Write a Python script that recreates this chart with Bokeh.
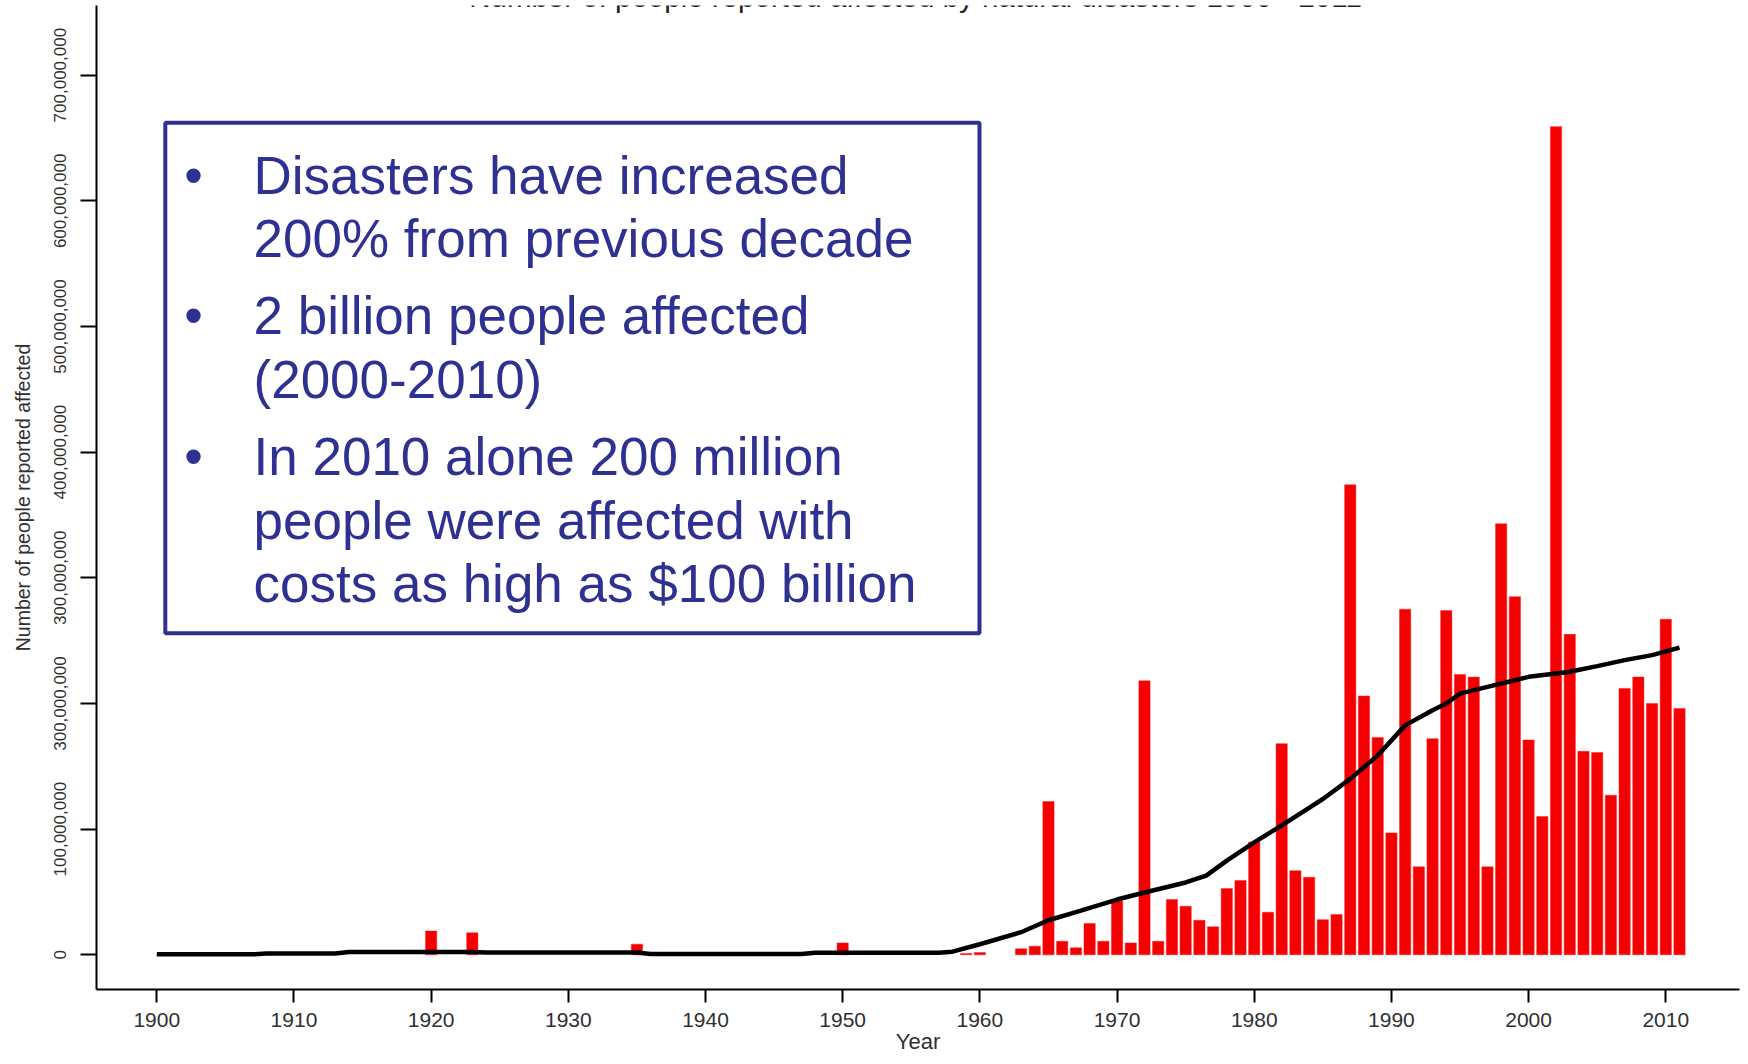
import math
from bokeh.plotting import figure
from bokeh.models import Range1d, FixedTicker, Label, BoxAnnotation
from bokeh.embed import file_html
from bokeh.resources import INLINE

# ---------------- data ----------------
bar_years = [1920, 1923, 1935, 1950, 1959, 1960, 1963, 1964, 1965, 1966, 1967, 1968, 1969,
             1970, 1971, 1972, 1973, 1974, 1975, 1976, 1977, 1978, 1979, 1980, 1981, 1982,
             1983, 1984, 1985, 1986, 1987, 1988, 1989, 1990, 1991, 1992, 1993, 1994, 1995,
             1996, 1997, 1998, 1999, 2000, 2001, 2002, 2003, 2004, 2005, 2006, 2007, 2008,
             2009, 2010, 2011]
bar_values_m = [19, 17.5, 8.5, 9.5, 1.0, 1.8, 4.8, 6.9, 122, 10.8, 5.6, 24.9, 10.8,
                43.2, 9.5, 218, 10.8, 44, 38.6, 27.5, 22.3, 52.7, 59.1, 89.8, 33.9, 168,
                67, 61.7, 28, 32, 374, 206, 173, 97, 275, 70, 172, 274, 223,
                221, 70, 343, 285, 171, 110, 659, 255, 162, 161, 127, 212, 221,
                200, 267, 196]

trend_years = [1900, 1907, 1908, 1913, 1914, 1923, 1924, 1935, 1936, 1947, 1948, 1957, 1958,
               1960, 1963, 1965, 1967, 1970, 1972, 1975, 1976.5, 1978, 1980, 1982, 1984,
               1985, 1987, 1989, 1991, 1993, 1994, 1995, 1997, 1999, 2000, 2002, 2003,
               2005, 2007, 2009, 2011]
trend_values_m = [0.4, 0.4, 1.0, 1.0, 2.3, 2.3, 1.8, 1.8, 0.6, 0.6, 1.6, 1.6, 2.5,
                  8.4, 18, 27.5, 34, 44, 49.6, 57.6, 63, 75, 89.5, 103, 117,
                  124, 140, 158.7, 182.6, 194.6, 200, 207.9, 213.2, 218.5, 221.2, 223.9, 225.2,
                  229.7, 234.5, 238.5, 244.4]

x_tick_years = [1900, 1910, 1920, 1930, 1940, 1950, 1960, 1970, 1980, 1990, 2000, 2010]
y_tick_values = [0, 100000000, 200000000, 300000000, 400000000, 500000000, 600000000, 700000000]
y_tick_labels = ["0", "100,000,000", "300,000,000", "300,000,000", "400,000,000",
                 "500,000,000", "600,000,000", "700,000,000"]

title_text = "Number of people reported affected by natural disasters 1900 - 2011"
x_axis_title = "Year"
y_axis_title = "Number of people reported affected"
box_lines = ["Disasters have increased", "200% from previous decade",
             "2 billion people affected", "(2000-2010)",
             "In 2010 alone 200 million", "people were affected with",
             "costs as high as $100 billion"]
bullet_lines = [0, 2, 4]

# ---------------- geometry (canvas pixels -> data) ----------------
X0_PX, PX_PER_YEAR = 156.3, 13.718
Y0_PX, PX_PER_UNIT = 955.3, 125.8 / 1e8
CAP_SHIFT = 0.358   # labels render their cap-centre at the anchor


def px2x(px):
    return 1900 + (px - X0_PX) / PX_PER_YEAR


def py2y(py):
    return (Y0_PX - py) / PX_PER_UNIT


def base_y(baseline_px, font_px):
    return py2y(baseline_px - CAP_SHIFT * font_px)


W, H = 1740, 1056
FRAME_L, FRAME_R, FRAME_T, FRAME_B = 96, 1739, 5, 990
p = figure(width=W, height=H, output_backend="svg", toolbar_location=None,
           x_range=Range1d(px2x(FRAME_L), px2x(FRAME_R)),
           y_range=Range1d(py2y(FRAME_B), py2y(FRAME_T)),
           min_border_left=FRAME_L, min_border_right=W - FRAME_R,
           min_border_top=FRAME_T, min_border_bottom=H - FRAME_B)
p.outline_line_color = None
p.xgrid.grid_line_color = None
p.ygrid.grid_line_color = None
p.background_fill_color = "white"
p.border_fill_color = "white"

p.vbar(x=bar_years, top=[v * 1e6 for v in bar_values_m], bottom=0, width=0.82,
       fill_color="#F50000", line_color="#FF2020", line_width=0.5)
p.line(trend_years, [v * 1e6 for v in trend_values_m], line_width=4.5, color="black")

# axes
for ax in (p.xaxis, p.yaxis):
    ax.axis_line_width = 2
    ax.axis_line_color = "black"
    ax.major_tick_line_width = 2
    ax.major_tick_line_color = "black"
    ax.major_tick_in = 0
    ax.minor_tick_line_color = None
    ax.major_label_text_font = "Liberation Sans"
    ax.major_label_text_color = "#303030"
    ax.axis_label_text_font = "Liberation Sans"
    ax.axis_label_text_font_style = "normal"
    ax.axis_label_text_color = "#303030"

p.xaxis.ticker = FixedTicker(ticks=x_tick_years)
p.xaxis.major_tick_out = 13
p.xaxis.major_label_standoff = 10
p.xaxis.major_label_text_font_size = "21px"
p.xaxis.axis_label = x_axis_title
p.xaxis.axis_label_text_font_size = "22px"
p.xaxis.axis_label_standoff = -1

p.yaxis.ticker = FixedTicker(ticks=y_tick_values)
p.yaxis.major_label_overrides = {v: s for v, s in zip(y_tick_values, y_tick_labels)}
p.yaxis.major_label_orientation = "vertical"
p.yaxis.major_tick_out = 16
p.yaxis.major_label_standoff = 14
p.yaxis.major_label_text_font_size = "17px"
p.yaxis.axis_label = y_axis_title
p.yaxis.axis_label_text_font_size = "19.5px"
p.yaxis.axis_label_standoff = 18

# main title (mostly cut off at the top edge, as in the source image)
p.add_layout(Label(x=px2x(915), y=base_y(7, 29.5), text=title_text, text_align="center",
                   text_baseline="alphabetic", text_font="Liberation Sans",
                   text_font_size="29.5px", text_color="#202020"))

# text box
BOX_BLUE = "#2E3192"
p.add_layout(BoxAnnotation(left=px2x(164.8), right=px2x(979), top=py2y(122.4), bottom=py2y(633.4),
                           fill_color="white", fill_alpha=1.0, line_color=BOX_BLUE,
                           line_width=4, line_alpha=1.0))
baselines_px = [194, 257.5, 334.5, 398, 475, 539, 602.5]
FS = 53
for i, (txt, bl) in enumerate(zip(box_lines, baselines_px)):
    p.add_layout(Label(x=px2x(253), y=base_y(bl, FS), text=txt, text_align="left",
                       text_baseline="alphabetic", text_font="Liberation Sans",
                       text_font_size=f"{FS}px", text_color=BOX_BLUE))
    if i in bullet_lines:
        p.add_layout(Label(x=px2x(193), y=base_y(bl, FS), text="\u2022", text_align="center",
                           text_baseline="alphabetic", text_font="Liberation Sans",
                           text_font_size=f"{FS}px", text_color=BOX_BLUE))

open("out.html", "w").write(file_html(p, INLINE))
